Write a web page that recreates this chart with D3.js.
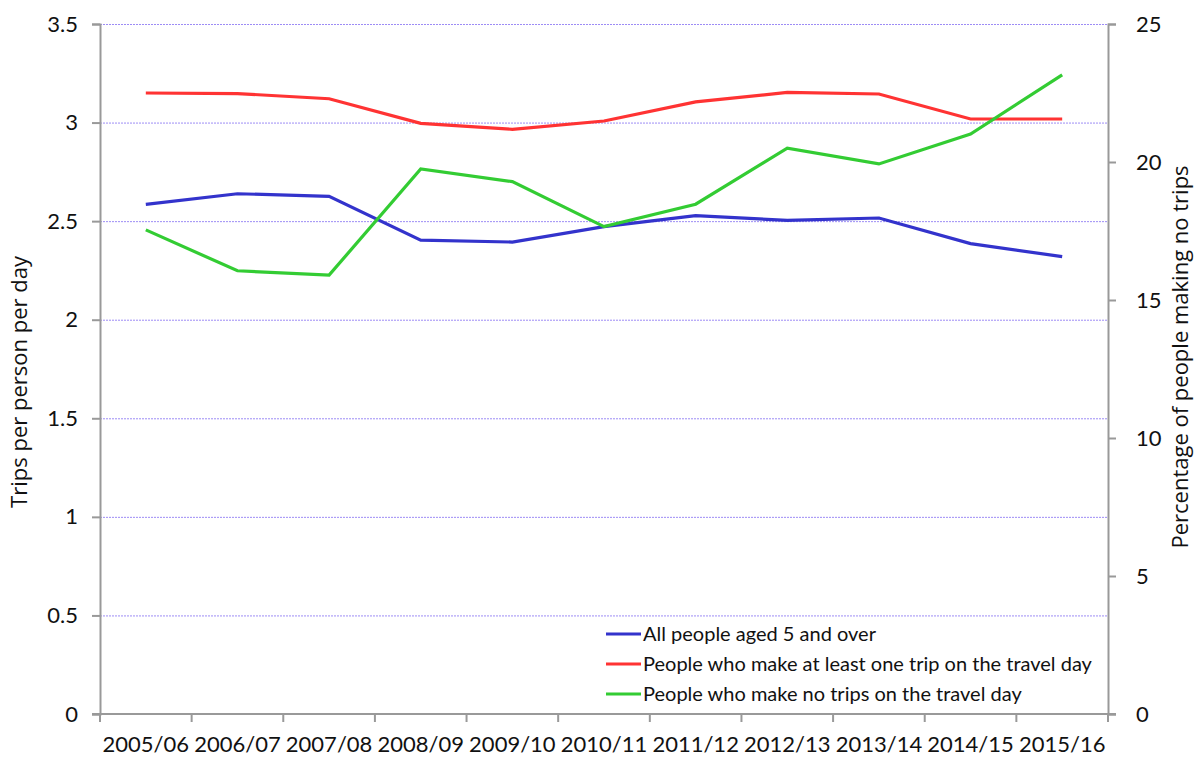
<!DOCTYPE html>
<html>
<head>
<meta charset="utf-8">
<title>Trips per person per day</title>
<script src="https://d3js.org/d3.v7.min.js"></script>
<style>
  body { margin: 0; background: #fff; }
  text { font-family: Lato, "Open Sans", sans-serif; fill: #111; }
</style>
</head>
<body>
<svg id="chart"></svg>
<script>
// data
var years = ["2005/06","2006/07","2007/08","2008/09","2009/10","2010/11","2011/12","2012/13","2013/14","2014/15","2015/16"];
var allPeople = [2.585, 2.639, 2.626, 2.404, 2.394, 2.472, 2.528, 2.504, 2.516, 2.386, 2.32];
var atLeastOne = [3.15, 3.147, 3.121, 2.996, 2.966, 3.008, 3.105, 3.153, 3.145, 3.018, 3.018];
var noTrips = [17.54, 16.06, 15.9, 19.75, 19.29, 17.66, 18.47, 20.5, 19.93, 21.01, 23.16];
var leftTicks = [0, 0.5, 1, 1.5, 2, 2.5, 3, 3.5];
var rightTicks = [0, 5, 10, 15, 20, 25];
var legendNames = ["All people aged 5 and over", "People who make at least one trip on the travel day", "People who make no trips on the travel day"];

var W = 1199, H = 758;
var plotL = 100, plotR = 1108, plotT = 24, plotB = 714;

var svg = d3.select("#chart").attr("width", W).attr("height", H);

var x = d3.scaleBand().domain(years).range([plotL, plotR]);
var yL = d3.scaleLinear().domain([0, 3.5]).range([plotB, plotT]);
var yR = d3.scaleLinear().domain([0, 25]).range([plotB, plotT]);

// gridlines
svg.append("g").selectAll("line")
  .data(leftTicks.filter(function(d) { return d > 0; }))
  .enter().append("line")
  .attr("x1", plotL).attr("x2", plotR)
  .attr("y1", function(d) { return yL(d) + 0.5; })
  .attr("y2", function(d) { return yL(d) + 0.5; })
  .attr("stroke", "#9d8cf5").attr("stroke-width", 1)
  .attr("stroke-dasharray", "2,1");

// axes
var axL = svg.append("g").attr("transform", "translate(" + plotL + ",0)")
  .call(d3.axisLeft(yL).tickValues(leftTicks).tickFormat(d3.format("")).tickSize(8).tickPadding(14));
var axR = svg.append("g").attr("transform", "translate(" + plotR + ",0)")
  .call(d3.axisRight(yR).tickValues(rightTicks).tickSize(8).tickPadding(20));
var axB = svg.append("g").attr("transform", "translate(0," + plotB + ")")
  .call(d3.axisBottom(x).tickSize(0).tickPadding(22));

// band boundary ticks on x axis
svg.append("g").selectAll("line")
  .data(years.concat(["end"]))
  .enter().append("line")
  .attr("x1", function(d, i) { return plotL + i * x.bandwidth(); })
  .attr("x2", function(d, i) { return plotL + i * x.bandwidth(); })
  .attr("y1", plotB).attr("y2", plotB + 8)
  .attr("stroke", "#999").attr("stroke-width", 2);

[axL, axR, axB].forEach(function(a) {
  a.select(".domain").attr("stroke", "#999").attr("stroke-width", 2);
  a.selectAll(".tick line").attr("stroke", "#999").attr("stroke-width", 2);
  a.selectAll("text").style("font-size", "22px").style("font-family", "Lato, sans-serif").attr("fill", "#111");
});
axB.select(".domain").attr("d", "M" + (plotL - 8) + ",0H" + (plotR + 8));

// lines
var cx = function(d, i) { return x(years[i]) + x.bandwidth() / 2; };
var lineL = d3.line().x(cx).y(function(d) { return yL(d); });
var lineR = d3.line().x(cx).y(function(d) { return yR(d); });
var colors = ["#3333cc", "#ff3333", "#33cc33"];

svg.append("path").attr("d", lineL(atLeastOne)).attr("fill", "none").attr("stroke", colors[1]).attr("stroke-width", 3.2);
svg.append("path").attr("d", lineL(allPeople)).attr("fill", "none").attr("stroke", colors[0]).attr("stroke-width", 3.2);
svg.append("path").attr("d", lineR(noTrips)).attr("fill", "none").attr("stroke", colors[2]).attr("stroke-width", 3.2);

// legend
var lg = svg.append("g").attr("transform", "translate(598,618)");
lg.append("rect").attr("width", 508).attr("height", 95).attr("fill", "#fff");
legendNames.forEach(function(n, i) {
  var yy = 16 + i * 30;
  lg.append("line").attr("x1", 8).attr("x2", 43).attr("y1", yy).attr("y2", yy)
    .attr("stroke", colors[i]).attr("stroke-width", 3);
  lg.append("text").attr("x", 45).attr("y", yy + 7).style("font-size", "20px").text(n);
});

// axis titles
svg.append("text")
  .attr("transform", "translate(27,382) rotate(-90)")
  .attr("text-anchor", "middle")
  .style("font-family", "'Open Sans', sans-serif")
  .style("font-size", "22px")
  .text("Trips per person per day");
svg.append("text")
  .attr("transform", "translate(1188,357) rotate(-90)")
  .attr("text-anchor", "middle")
  .style("font-family", "'Open Sans', sans-serif")
  .style("font-size", "22px")
  .text("Percentage of people making no trips");
</script>
</body>
</html>
